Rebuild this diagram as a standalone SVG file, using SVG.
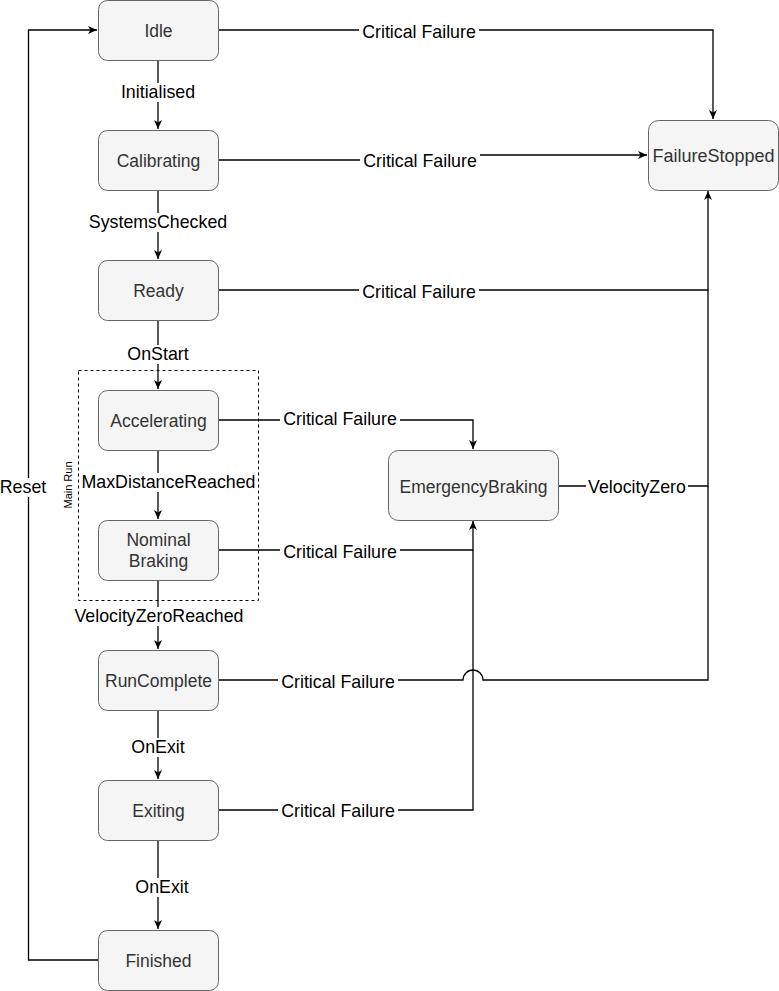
<svg xmlns="http://www.w3.org/2000/svg" width="779" height="991" viewBox="0 0 779 991">
  <style>
    .node rect { fill: #f5f5f5; stroke: #666666; stroke-width: 1; }
    .node text { font-family: "Liberation Sans", Arial, sans-serif; font-size: 17.5px; fill: #333333; text-anchor: middle; dominant-baseline: central; }
    .edge { fill: none; stroke: #000000; stroke-width: 1.3; }
    .lbl rect { fill: #ffffff; }
    .lbl text { font-family: "Liberation Sans", Arial, sans-serif; font-size: 17.8px; fill: #000000; text-anchor: middle; dominant-baseline: central; }
    .group { fill: none; stroke: #000000; stroke-width: 1; stroke-dasharray: 3 3; }
    .grouplbl { font-family: "Liberation Sans", Arial, sans-serif; font-size: 11px; fill: #000000; text-anchor: middle; dominant-baseline: central; }
  </style>
  <defs>
    <marker id="arrow" markerUnits="userSpaceOnUse" markerWidth="10" markerHeight="10" refX="9" refY="4" orient="auto">
      <path d="M0,0 L9,4 L0,8 L2.5,4 Z" fill="#000000"/>
    </marker>
  </defs>

  <rect width="779" height="991" fill="#ffffff"/>

  <!-- Main Run container -->
  <g id="main-run">
    <rect class="group" x="78.5" y="370.5" width="180" height="230"/>
    <text class="grouplbl" transform="translate(68,485) rotate(-90)">Main Run</text>
  </g>

  <!-- Connectors -->
  <g id="connectors">
    <path class="edge" d="M158,60.5 V129" marker-end="url(#arrow)"/>
    <path class="edge" d="M158,190.5 V259" marker-end="url(#arrow)"/>
    <path class="edge" d="M158,320.5 V389" marker-end="url(#arrow)"/>
    <path class="edge" d="M158,450.5 V519" marker-end="url(#arrow)"/>
    <path class="edge" d="M158,580.5 V649" marker-end="url(#arrow)"/>
    <path class="edge" d="M158,710.5 V779" marker-end="url(#arrow)"/>
    <path class="edge" d="M158,840.5 V929" marker-end="url(#arrow)"/>
    <path class="edge" d="M98,960 H28.5 V30 H97" marker-end="url(#arrow)"/>

    <path class="edge" d="M218.5,30 H713 V119" marker-end="url(#arrow)"/>
    <path class="edge" d="M218.5,160 H433 V155 H647" marker-end="url(#arrow)"/>
    <path class="edge" d="M218.5,290 H708 V191" marker-end="url(#arrow)"/>
    <path class="edge" d="M558.5,486 H708 V290"/>
    <path class="edge" d="M218.5,680 H463 A10,10 0 0 1 483,680 H708 V486"/>

    <path class="edge" d="M218.5,420 H473 V449" marker-end="url(#arrow)"/>
    <path class="edge" d="M218.5,550 H473 V521" marker-end="url(#arrow)"/>
    <path class="edge" d="M218.5,810 H473 V550"/>
  </g>

  <!-- Connector labels -->
  <g id="labels">
    <g class="lbl"><rect x="116" y="83" width="84" height="19"/><text x="158" y="92">Initialised</text></g>
    <g class="lbl"><rect x="87" y="213" width="142" height="19"/><text x="158" y="222">SystemsChecked</text></g>
    <g class="lbl"><rect x="129" y="345" width="58" height="19"/><text x="158" y="354">OnStart</text></g>
    <g class="lbl"><rect x="80" y="473" width="177" height="19"/><text x="168.5" y="482">MaxDistanceReached</text></g>
    <g class="lbl"><rect x="72" y="607" width="174" height="19"/><text x="159" y="616">VelocityZeroReached</text></g>
    <g class="lbl"><rect x="127" y="738" width="62" height="19"/><text x="158" y="747">OnExit</text></g>
    <g class="lbl"><rect x="131" y="878" width="62" height="19"/><text x="162" y="887">OnExit</text></g>
    <g class="lbl"><rect x="0" y="478" width="48" height="19"/><text x="23" y="487">Reset</text></g>

    <g class="lbl"><rect x="359" y="23" width="120" height="19"/><text x="419" y="32">Critical Failure</text></g>
    <g class="lbl"><rect x="360" y="152" width="120" height="19"/><text x="420" y="161">Critical Failure</text></g>
    <g class="lbl"><rect x="359" y="283" width="120" height="19"/><text x="419" y="292">Critical Failure</text></g>
    <g class="lbl"><rect x="280" y="410" width="120" height="19"/><text x="340" y="419">Critical Failure</text></g>
    <g class="lbl"><rect x="280" y="543" width="120" height="19"/><text x="340" y="552">Critical Failure</text></g>
    <g class="lbl"><rect x="278" y="673" width="120" height="19"/><text x="338" y="682">Critical Failure</text></g>
    <g class="lbl"><rect x="278" y="802" width="120" height="19"/><text x="338" y="811">Critical Failure</text></g>
    <g class="lbl"><rect x="586" y="478" width="102" height="19"/><text x="637" y="487">VelocityZero</text></g>
  </g>

  <!-- States -->
  <g id="idle" class="node"><rect x="98.5" y="0.5" width="120" height="60" rx="9"/><text x="158.5" y="31">Idle</text></g>
  <g id="calibrating" class="node"><rect x="98.5" y="130.5" width="120" height="60" rx="9"/><text x="158.5" y="161">Calibrating</text></g>
  <g id="ready" class="node"><rect x="98.5" y="260.5" width="120" height="60" rx="9"/><text x="158.5" y="291">Ready</text></g>
  <g id="accelerating" class="node"><rect x="98.5" y="390.5" width="120" height="60" rx="9"/><text x="158.5" y="421">Accelerating</text></g>
  <g id="nominal-braking" class="node"><rect x="98.5" y="520.5" width="120" height="60" rx="9"/><text x="158.5" y="540">Nominal</text><text x="158.5" y="561">Braking</text></g>
  <g id="run-complete" class="node"><rect x="98.5" y="650.5" width="120" height="60" rx="9"/><text x="158.5" y="681">RunComplete</text></g>
  <g id="exiting" class="node"><rect x="98.5" y="780.5" width="120" height="60" rx="9"/><text x="158.5" y="811">Exiting</text></g>
  <g id="finished" class="node"><rect x="98.5" y="930.5" width="120" height="60" rx="9"/><text x="158.5" y="961">Finished</text></g>
  <g id="failure-stopped" class="node"><rect x="648.5" y="120.5" width="130" height="70" rx="10"/><text x="713.5" y="156" style="font-size:18px">FailureStopped</text></g>
  <g id="emergency-braking" class="node"><rect x="388.5" y="450.5" width="170" height="70" rx="10"/><text x="473.5" y="487">EmergencyBraking</text></g>
</svg>
